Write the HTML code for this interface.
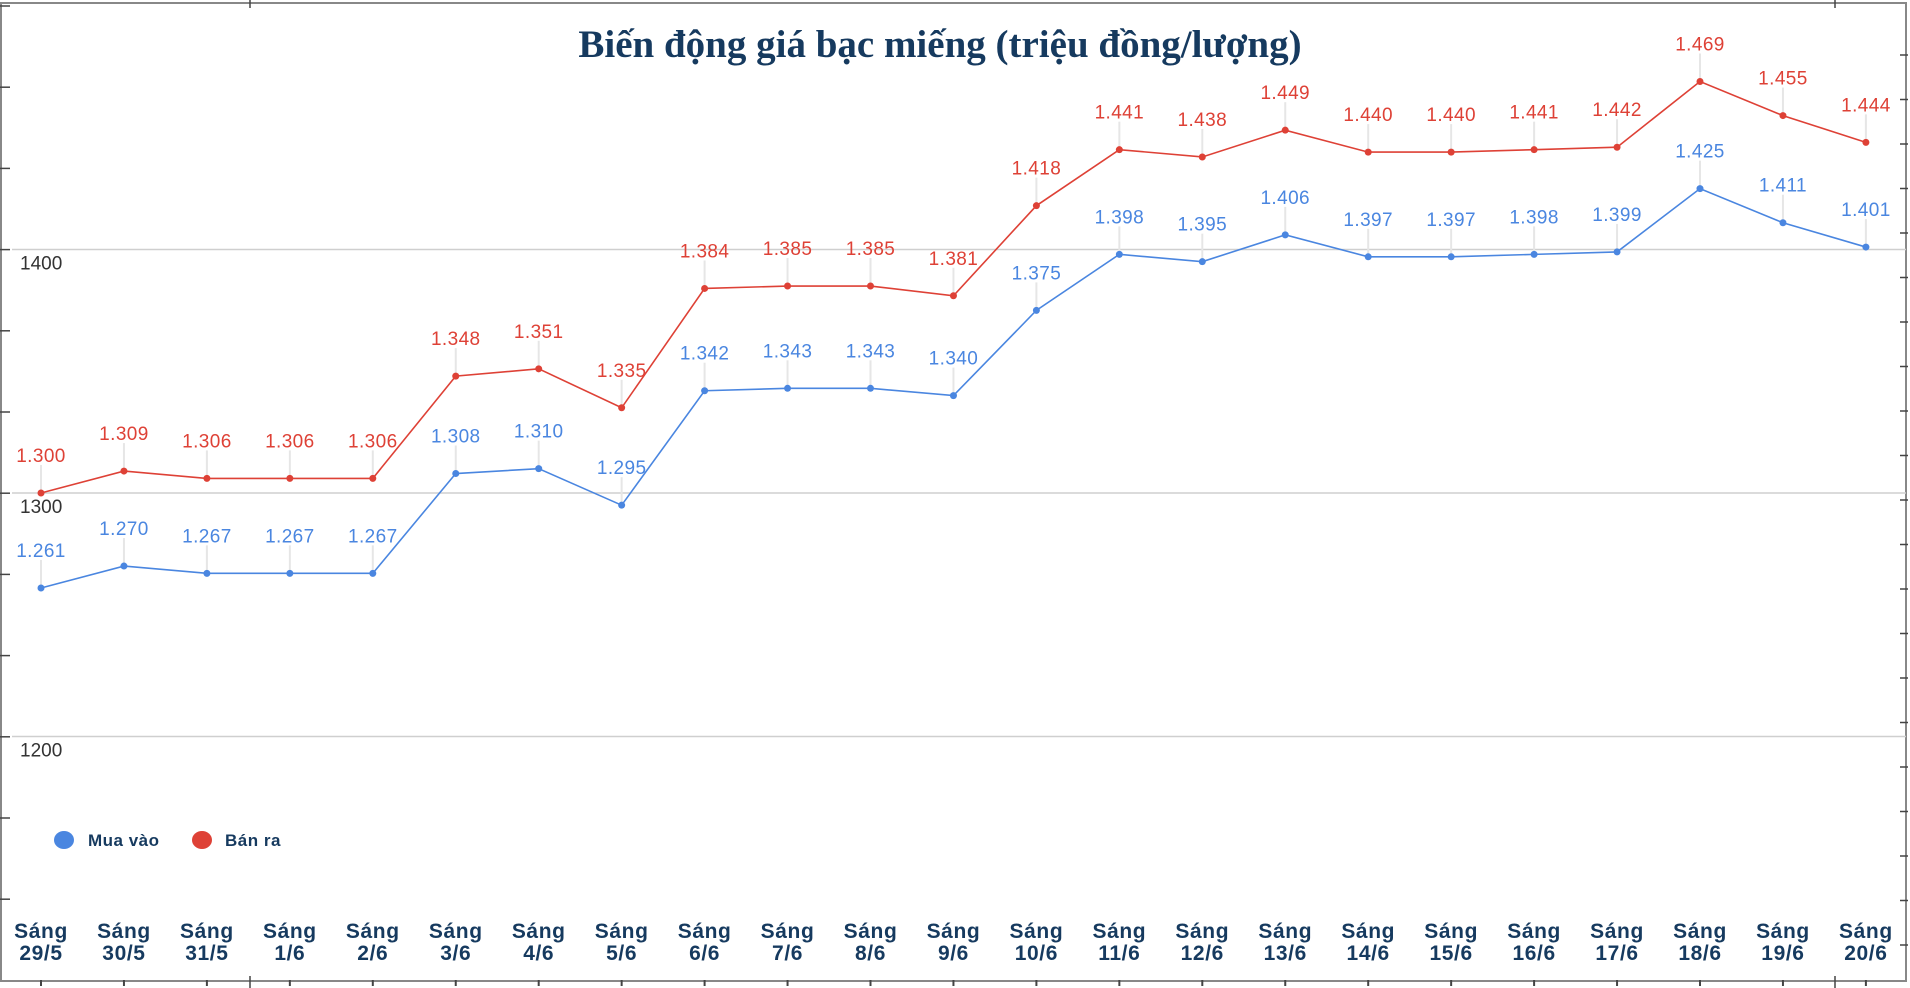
<!DOCTYPE html>
<html><head><meta charset="utf-8">
<style>
html,body{margin:0;padding:0;background:#fff;}
svg{display:block;font-family:"Liberation Sans",Arial,sans-serif;}
</style></head>
<body>
<svg id="chart" width="1910" height="988" viewBox="0 0 1910 988" xmlns="http://www.w3.org/2000/svg">
<rect x="0" y="0" width="1910" height="988" fill="#fff"/>
<rect x="1" y="3" width="1905" height="978" fill="none" stroke="#888" stroke-width="2"/>
<text x="940" y="57" text-anchor="middle" font-family="'Liberation Serif',serif" font-weight="bold" font-size="39" fill="#163a5f">Biến động giá bạc miếng (triệu đồng/lượng)</text>
<g id="grid"></g>
<g id="ticks"></g>
<g id="series"></g>
<g id="xlabels"></g>
<g>
  <g>
    <ellipse cx="64" cy="840" rx="10" ry="9" fill="#4a86e0"/>
    <text x="88" y="846" font-size="17" font-weight="bold" fill="#163a5f" letter-spacing="0.5">Mua vào</text>
  </g>
  <g>
    <ellipse cx="202" cy="840" rx="10" ry="9" fill="#de4136"/>
    <text x="225" y="846" font-size="17" font-weight="bold" fill="#163a5f" letter-spacing="0.5">Bán ra</text>
  </g>
</g>
</svg>
<script>
const categories = ["29/5","30/5","31/5","1/6","2/6","3/6","4/6","5/6","6/6","7/6","8/6","9/6","10/6","11/6","12/6","13/6","14/6","15/6","16/6","17/6","18/6","19/6","20/6"];
const buyValues = [1261,1270,1267,1267,1267,1308,1310,1295,1342,1343,1343,1340,1375,1398,1395,1406,1397,1397,1398,1399,1425,1411,1401];
const sellValues = [1300,1309,1306,1306,1306,1348,1351,1335,1384,1385,1385,1381,1418,1441,1438,1449,1440,1440,1441,1442,1469,1455,1444];
const yTicks = [1200,1300,1400];

const NS = "http://www.w3.org/2000/svg";
function xScale(i){ return 41 + i * 82.95; }
function yScale(v){ return 493 - (v - 1300) * 2.435; }
function mk(tag, attrs, parent){
  const e = document.createElementNS(NS, tag);
  for (const k in attrs) e.setAttribute(k, attrs[k]);
  parent.appendChild(e);
  return e;
}
function fmt(v){ return (v/1000).toFixed(3); }

const grid = document.getElementById('grid');
yTicks.forEach(t => {
  const y = yScale(t);
  const l = mk('line', {x1: 12, x2: 1906, y1: y, y2: y, stroke: '#cfcfcf', 'stroke-width': 1.5}, grid);
  
  
  const tx = mk('text', {x: 20, y: y + 20, 'font-size': 19, fill: '#333'}, grid);
  tx.textContent = String(t);
  
  
});

const ticks = document.getElementById('ticks');
for (let y = 6; y < 980; y += 81.2) {
  const t = mk('line', {x1: 0, x2: 10, y1: y, y2: y, stroke: '#444', 'stroke-width': 1.5}, ticks);
  
  
}
for (let y = 55; y < 980; y += 44.5) {
  const t = mk('line', {x1: 1900, x2: 1908, y1: y, y2: y, stroke: '#444', 'stroke-width': 1.5}, ticks);
  
  
}
[250, 1835].forEach(x => {
  const a = mk('line', {x1: x, x2: x, y1: 0, y2: 8, stroke: '#444', 'stroke-width': 1.5}, ticks);
  
  
  const b = mk('line', {x1: x, x2: x, y1: 976, y2: 988, stroke: '#444', 'stroke-width': 1.5}, ticks);
  
  
});

const series = document.getElementById('series');
function drawSeries(vals, color, name){
  const g = mk('g', {}, series);
  
  
  vals.forEach((v, i) => {
    const x = xScale(i), y = yScale(v);
    const ld = mk('line', {x1: x, x2: x, y1: y - 28, y2: y, stroke: '#e6e6e6', 'stroke-width': 2}, g);
    
    
  });
  const pts = vals.map((v, i) => xScale(i) + ',' + yScale(v)).join(' ');
  const pl = mk('polyline', {points: pts, fill: 'none', stroke: color, 'stroke-width': 1.6}, g);
  
  
  vals.forEach((v, i) => {
    const x = xScale(i), y = yScale(v);
    const c = mk('circle', {cx: x, cy: y, r: 3.5, fill: color}, g);
    
    
    const t = mk('text', {x: x, y: y - 31, 'text-anchor': 'middle', 'font-size': 19, 'letter-spacing': 0.4, fill: color}, g);
    t.textContent = fmt(v);
    
    
  });
}
drawSeries(sellValues, '#de4136', 'ban-ra');
drawSeries(buyValues, '#4a86e0', 'mua-vao');

const xl = document.getElementById('xlabels');
categories.forEach((c, i) => {
  const x = xScale(i);
  const t = mk('text', {x: x, 'text-anchor': 'middle', 'font-size': 21, 'font-weight': 'bold', 'letter-spacing': 0.6, fill: '#163a5f'}, xl);
  
  
  const s1 = mk('tspan', {x: x, y: 938}, t); s1.textContent = 'Sáng';
  const s2 = mk('tspan', {x: x, y: 960}, t); s2.textContent = c;
  const tk = mk('line', {x1: x, x2: x, y1: 980, y2: 986, stroke: '#444', 'stroke-width': 2}, xl);
  
  
});
</script>
</body></html>
